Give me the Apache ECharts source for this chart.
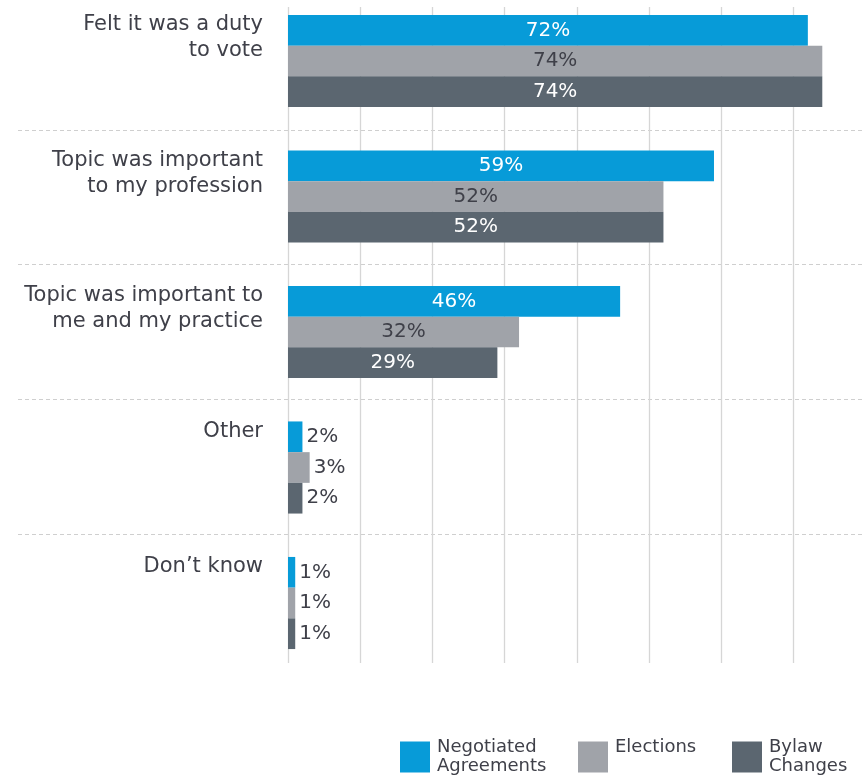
<!DOCTYPE html>
<html>
<head>
<meta charset="utf-8">
<script src="https://cdn.jsdelivr.net/npm/echarts@6/dist/echarts.min.js"></script>
<style>
  html, body { margin: 0; padding: 0; background: #ffffff; }
  #chart { width: 862px; height: 777px; }
</style>
</head>
<body>
<div id="chart"></div>
<script>
// Reasons for voting, by ballot type (percent of respondents)
const categories = [
  'Felt it was a duty\nto vote',
  'Topic was important\nto my profession',
  'Topic was important to\nme and my practice',
  'Other',
  'Don\u2019t know'
];
const seriesNames = ['Negotiated Agreements', 'Elections', 'Bylaw Changes'];
const legendLabels = ['Negotiated\nAgreements', 'Elections\n', 'Bylaw\nChanges'];
const negotiatedAgreements = [72, 59, 46, 2, 1];
const elections = [74, 52, 32, 3, 1];
const bylawChanges = [74, 52, 29, 2, 1];
// the value axis runs past the 70% gridline to the right edge of the chart
const xMin = 0;
const xMax = 79.5;
const xStep = 10;

const colors = ['#079bd8', '#a0a3a9', '#5b6670'];
const insideLabelColors = ['#ffffff', '#3f4049', '#ffffff'];
const textDark = '#3f4049';
const FONT = '"DejaVu Sans", sans-serif';

const chart = echarts.init(document.getElementById('chart'), null, { renderer: 'canvas' });

// short bars carry their label outside, to the right
function buildData(values) {
  return values.map(v => v < 10
    ? { value: v, label: { position: 'right', color: textDark, distance: 4 } }
    : v);
}

const seriesValues = [negotiatedAgreements, elections, bylawChanges];

const option = {
  animation: false,
  color: colors,
  textStyle: { fontFamily: FONT },
  grid: [
    // vertical gridlines
    { left: 288, right: 0, top: 7, bottom: 114 },
    // dashed separators between categories
    { left: 18, right: 0, top: 130, height: 404 },
    // bars: category centres sit on the axis ticks
    { left: 288, right: 0, top: 61, height: 542 }
  ],
  xAxis: [
    {
      gridIndex: 0, type: 'value', min: xMin, max: xMax, interval: xStep,
      axisLine: { show: false }, axisTick: { show: false }, axisLabel: { show: false },
      splitLine: { show: true, showMaxLine: false, lineStyle: { color: '#d6d6d6', width: 1.3 } }
    },
    {
      gridIndex: 1, type: 'value', min: 0, max: 1, show: false
    },
    {
      gridIndex: 2, type: 'value', min: xMin, max: xMax, interval: xStep,
      axisLine: { show: false }, axisTick: { show: false }, axisLabel: { show: false },
      splitLine: { show: false }
    }
  ],
  yAxis: [
    {
      gridIndex: 0, type: 'category', data: categories, inverse: true,
      axisLine: { show: false }, axisTick: { show: false }, axisLabel: { show: false },
      splitLine: { show: false }
    },
    {
      gridIndex: 1, type: 'value', min: 0, max: 3, interval: 1,
      axisLine: { show: false }, axisTick: { show: false }, axisLabel: { show: false },
      splitLine: { show: true, lineStyle: { color: '#cfcfcf', width: 1, type: [4, 3] } }
    },
    {
      gridIndex: 2, type: 'category', data: categories, inverse: true,
      boundaryGap: false,
      axisLine: { show: false }, axisTick: { show: false },
      splitLine: { show: false },
      axisLabel: {
        show: true,
        margin: 25,
        align: 'right',
        verticalAlign: 'bottom',
        padding: [0, 0, -3, 0],
        fontFamily: FONT,
        fontSize: 21,
        lineHeight: 26,
        color: textDark,
        formatter: v => v.indexOf('\n') < 0 ? v + '\n' : v
      }
    }
  ],
  legend: seriesNames.map((name, i) => ({
    data: [name],
    left: [400, 578, 732][i],
    top: 738,
    itemWidth: 30,
    itemHeight: 31,
    itemGap: 0,
    icon: 'rect',
    padding: 0,
    formatter: () => legendLabels[i],
    textStyle: {
      fontFamily: FONT, fontSize: 18, lineHeight: 19, color: textDark,
      padding: [0, 0, 0, 2]
    }
  })),
  series: seriesNames.map((name, i) => ({
    name: name,
    type: 'bar',
    xAxisIndex: 2,
    yAxisIndex: 2,
    barWidth: 30.7,
    barGap: '0%',
    data: buildData(seriesValues[i]),
    itemStyle: { color: colors[i] },
    label: {
      show: true,
      position: 'inside',
      formatter: '{c}%',
      color: insideLabelColors[i],
      fontFamily: FONT,
      fontSize: 20
    }
  }))
};

chart.setOption(option);
</script>
</body>
</html>
